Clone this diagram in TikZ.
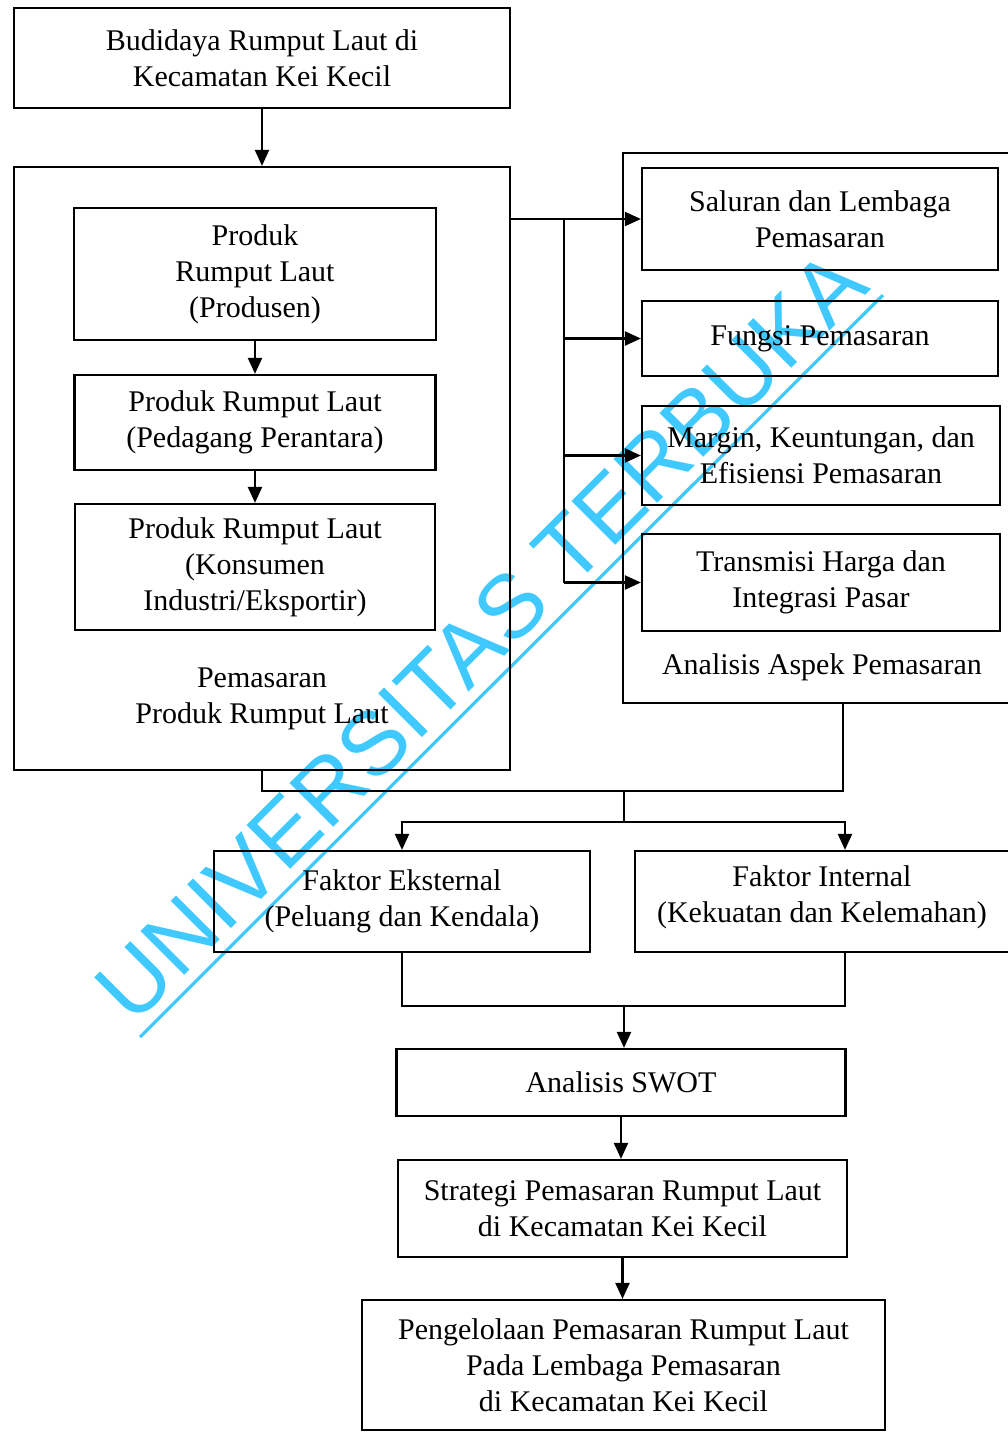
\documentclass[tikz,border=0pt]{standalone}
\usepackage{fontspec}
\setmainfont{Liberation Serif}
\newfontfamily\wmfont{Liberation Sans}
\usepackage{tikz}
\usetikzlibrary{arrows.meta,positioning}
\definecolor{wmblue}{RGB}{64,201,255}

\begin{document}
\begin{tikzpicture}[x=0.5pt,y=-0.5pt]
\tikzstyle{every node}+=[font=\fontsize{15}{18}\selectfont]
\tikzstyle{box}=[draw,line width=1.1pt,rectangle,align=center,inner sep=0pt]
\tikzstyle{lbl}=[align=center,inner sep=0pt]
\tikzstyle{arr}=[line width=1.1pt,-{Triangle[length=8pt,width=7pt]}]
\tikzstyle{ln}=[line width=1.1pt]
\useasboundingbox (0,0) rectangle (1008,1432);
\node [box,minimum width=248pt,minimum height=50pt] (budi) at (262,58) {Budidaya Rumput Laut di\\Kecamatan Kei Kecil};
\node [box,minimum width=248pt,minimum height=301.5pt] (pemL) at (262,468.5) {};
\node [box,minimum width=181pt,minimum height=66pt] (prod) at (255,274) {Produk\\Rumput Laut\\(Produsen)};
\node [box,minimum width=180.5pt,minimum height=47.5pt] (pdg) at (255,422.5) {Produk Rumput Laut\\(Pedagang Perantara)};
\node [box,minimum width=180pt,minimum height=63pt] (kons) at (255,567) {Produk Rumput Laut\\(Konsumen\\Industri/Eksportir)};
\node [lbl] (pemLbl) at (262,699) {Pemasaran\\Produk Rumput Laut};
\node [box,minimum width=220pt,minimum height=275pt] (aspek) at (843,428) {};
\node [box,minimum width=178pt,minimum height=51pt] (sal) at (820,219) {Saluran dan Lembaga\\Pemasaran};
\node [box,minimum width=178pt,minimum height=37.5pt] (fungsi) at (820,338.5) {Fungsi Pemasaran};
\node [box,minimum width=179pt,minimum height=49.5pt] (margin) at (821,455.5) {Margin, Keuntungan, dan\\Efisiensi Pemasaran};
\node [box,minimum width=179pt,minimum height=48.5pt] (trans) at (821,582.5) {Transmisi Harga dan\\Integrasi Pasar};
\node [lbl] (aspekLbl) at (822,667) {Analisis Aspek Pemasaran};
\node [box,minimum width=188pt,minimum height=50.5pt] (eks) at (402,901.5) {Faktor Eksternal\\(Peluang dan Kendala)};
\node [box,minimum width=210pt,minimum height=50.5pt] (int) at (845,901.5) {};
\node [lbl] (intLbl) at (822,897) {Faktor Internal\\(Kekuatan dan Kelemahan)};
\node [box,minimum width=224.5pt,minimum height=33.5pt] (swot) at (621,1082.5) {Analisis SWOT};
\node [box,minimum width=224.5pt,minimum height=48.5pt] (strat) at (622.5,1208.5) {Strategi Pemasaran Rumput Laut\\di Kecamatan Kei Kecil};
\node [box,minimum width=261.5pt,minimum height=65pt] (kelola) at (623.5,1365) {Pengelolaan Pemasaran Rumput Laut\\Pada Lembaga Pemasaran\\di Kecamatan Kei Kecil};
\coordinate (jR) at (564,221);
\coordinate (jB) at (624,791);
\coordinate (jM) at (624,822);
\coordinate (jS) at (624,1006);
\draw [arr] (budi.south) -- (pemL.north);
\draw [arr] (prod.south) -- (pdg.north);
\draw [arr] (pdg.south) -- (kons.north);
\draw [arr] (pemL.east |- sal) -- (sal.west);
\draw [ln] (jR |- sal) -- (jR |- trans);
\draw [arr] (jR |- fungsi) -- (fungsi.west);
\draw [arr] (jR |- margin) -- (margin.west);
\draw [arr] (jR |- trans) -- (trans.west);
\draw [ln] (pemL.south) |- (jB) -| (aspek.south);
\draw [ln] (jB) -- (jM);
\draw [arr] (jM) -| (eks.north);
\draw [arr] (jM) -| (int.north);
\draw [ln] (eks.south) |- (jS) -| (int.south);
\draw [arr] (jS) -- (jS |- swot.north);
\draw [arr] (swot.south) -- (swot.south |- strat.north);
\draw [arr] (strat.south) -- (strat.south |- kelola.north);
\begin{scope}[blend mode=multiply]
\node [rotate=45,text=wmblue,inner sep=0pt,font=\fontsize{45}{50}\wmfont] (wm) at (481,636) {UNIVERSITAS TERBUKA};
\draw [wmblue,line width=1.6pt] (140,1037) -- (883,295);
\end{scope}
\end{tikzpicture}
\end{document}
